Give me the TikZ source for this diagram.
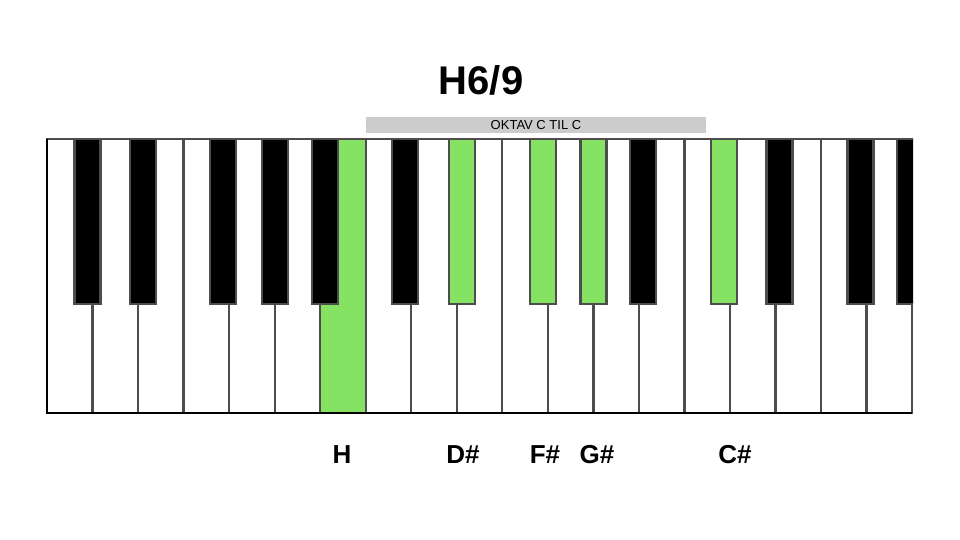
\documentclass[tikz,border=0pt]{standalone}
\usepackage{fontspec}
\setmainfont{Liberation Sans}
\definecolor{keyline}{RGB}{77,77,77}
\definecolor{chordgreen}{RGB}{134,226,99}
\definecolor{barfill}{RGB}{204,204,204}
\begin{document}
\begin{tikzpicture} [x = 1pt, y = -1pt,
  whitekey/.style = {draw = keyline, line width = 2.3pt, fill = white},
  blackkey/.style = {draw = keyline, line width = 2.3pt},
  keylabel/.style = {font = \fontsize{26}{26}\selectfont\bfseries}]
\useasboundingbox (0,0) rectangle (960,540);
\node(title) at (481,80) {\fontsize{40}{40}\selectfont\bfseries H6/9};
\fill [color = barfill] (366,117) rectangle (706,133);
\node(octave) at (536,125) {\fontsize{13}{13}\selectfont OKTAV C TIL C};
\begin{scope}
\clip (45,137) rectangle (913,415);
% white keys, H is part of the chord
\foreach \i in {0,...,18}
  \draw [whitekey] (47+\i*45.53,139) rectangle (92.53+\i*45.53,413);
\draw [whitekey, fill = chordgreen] (47+6*45.53,139) rectangle (92.53+6*45.53,413);
% black keys: boundary / shift / fill
\foreach \b/\d/\c in {1/-5/black, 2/5/black, 4/-6/black, 5/0/black, 6/5/black,
  8/-6/black, 9/5/chordgreen, 11/-5/chordgreen, 12/0/chordgreen, 13/4/black,
  15/-6/chordgreen, 16/4/black, 18/-6/black, 19/-2/black}
  \draw [blackkey, fill = \c] (34+\b*45.53+\d,139) rectangle (60+\b*45.53+\d,304);
\end{scope}
\draw [line width = 2.5pt] (47,139) -- (47,413) -- (912,413);
\node[keylabel](lblH) at (342,455) {H};
\node[keylabel](lblDis) at (463,455) {D\#};
\node[keylabel](lblFis) at (545,455) {F\#};
\node[keylabel](lblGis) at (597,455) {G\#};
\node[keylabel](lblCis) at (735,455) {C\#};
\end{tikzpicture}
\end{document}
